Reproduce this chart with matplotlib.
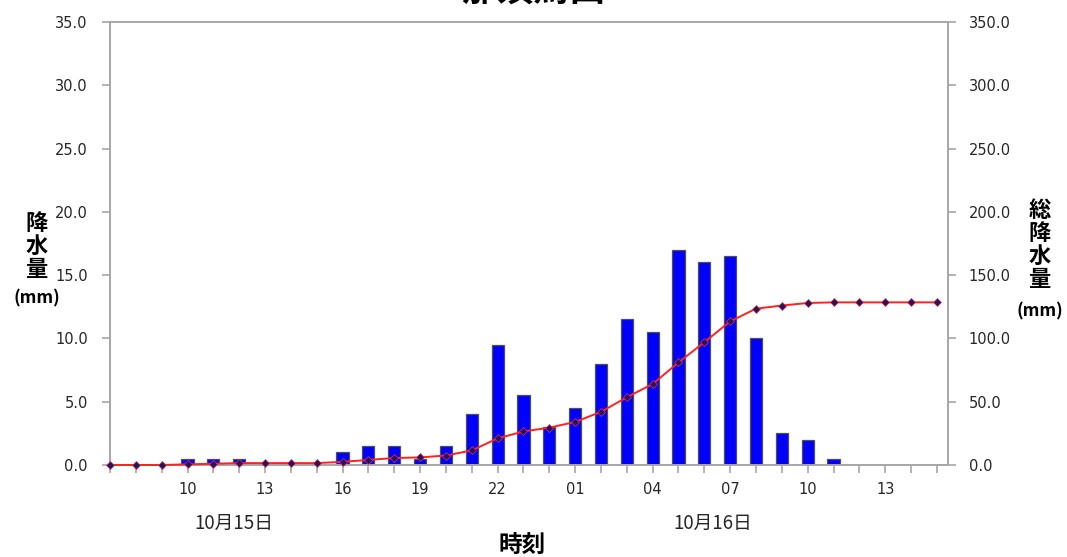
import numpy as np
import matplotlib.pyplot as plt

plt.rcParams['font.family'] = ['Noto Sans CJK JP', 'DejaVu Sans']

# hourly data, 10/15 07時 .. 10/16 15時
hours = ['07', '08', '09', '10', '11', '12', '13', '14', '15', '16', '17', '18',
         '19', '20', '21', '22', '23', '00', '01', '02', '03', '04', '05', '06',
         '07', '08', '09', '10', '11', '12', '13', '14', '15']
rain = [0, 0, 0, 0.5, 0.5, 0.5, 0, 0, 0, 1.0, 1.5, 1.5,
        0.5, 1.5, 4.0, 9.5, 5.5, 3.0, 4.5, 8.0, 11.5, 10.5, 17.0, 16.0,
        16.5, 10.0, 2.5, 2.0, 0.5, 0, 0, 0, 0]
total = np.cumsum(rain)

date_labels = ['10月15日', '10月16日']
title = '那須烏山'

x = np.arange(len(hours))
gray = '#a6a6a6'
txt = '#262626'

fig = plt.figure(figsize=(10.67, 5.57), dpi=100)
ax = fig.add_axes([110/1067, 92/557, 838/1067, 443/557])
ax2 = ax.twinx()

# bars on left axis
ax.bar(x, rain, width=0.47, color='#0000ff', edgecolor='#505050', linewidth=0.9, zorder=2)
ax.set_ylim(0, 35)
ax.set_xlim(0, 32.43)
ax.set_yticks(np.arange(0, 35.1, 5))
ax.set_yticklabels([f'{v:.1f}' for v in np.arange(0, 35.1, 5)])

# cumulative line on right axis
ax2.plot(x, total, color='#ff2020', linewidth=1.4, marker='D', markersize=4.5,
         markerfacecolor='#24145e', markeredgecolor='#e83040', markeredgewidth=0.5,
         zorder=3, clip_on=False)
ax2.set_ylim(0, 350)
ax2.set_yticks(np.arange(0, 351, 50))
ax2.set_yticklabels([f'{v:.1f}' for v in np.arange(0, 351, 50)])
ax2.set_zorder(ax.get_zorder() + 1)
ax2.patch.set_visible(False)

# x ticks every hour, labels every 3 hours
ax.set_xticks(x)
ax.set_xticklabels([h if (i - 3) % 3 == 0 and 3 <= i <= 30 else '' for i, h in enumerate(hours)])

for a in (ax, ax2):
    for s in a.spines.values():
        s.set_color(gray)
        s.set_linewidth(1.2)
    a.tick_params(colors=gray, labelcolor=txt, labelsize=10.5, length=6, width=1.2)
    for lab in a.get_xticklabels() + a.get_yticklabels():
        lab.set_family('DejaVu Sans')
ax.tick_params(axis='x', pad=6)
ax.tick_params(axis='y', pad=10)
ax2.tick_params(axis='y', pad=9)

# axis titles
fig.text(37/1067, 1 - 246/557, '降\n水\n量', ha='center', va='center',
         fontsize=16, fontweight='bold', linespacing=1.0)
fig.text(37/1067, 1 - 298/557, '(mm)', ha='center', va='center',
         fontsize=12.5, fontweight='bold')
fig.text(1040/1067, 1 - 245/557, '総\n降\n水\n量', ha='center', va='center',
         fontsize=16, fontweight='bold', linespacing=1.0)
fig.text(1040/1067, 1 - 311/557, '(mm)', ha='center', va='center',
         fontsize=12.5, fontweight='bold')

fig.text(234/1067, 1 - 523/557, date_labels[0], ha='center', va='center', fontsize=13.5, color=txt)
fig.text(713/1067, 1 - 523/557, date_labels[1], ha='center', va='center', fontsize=13.5, color=txt)
fig.text(522/1067, 1 - 545/557, '時刻', ha='center', va='center', fontsize=17, fontweight='bold')

fig.text(0.5, 1 + 9/557, title, ha='center', va='center', fontsize=26, fontweight='bold')

fig.savefig('out.png', dpi=100)
